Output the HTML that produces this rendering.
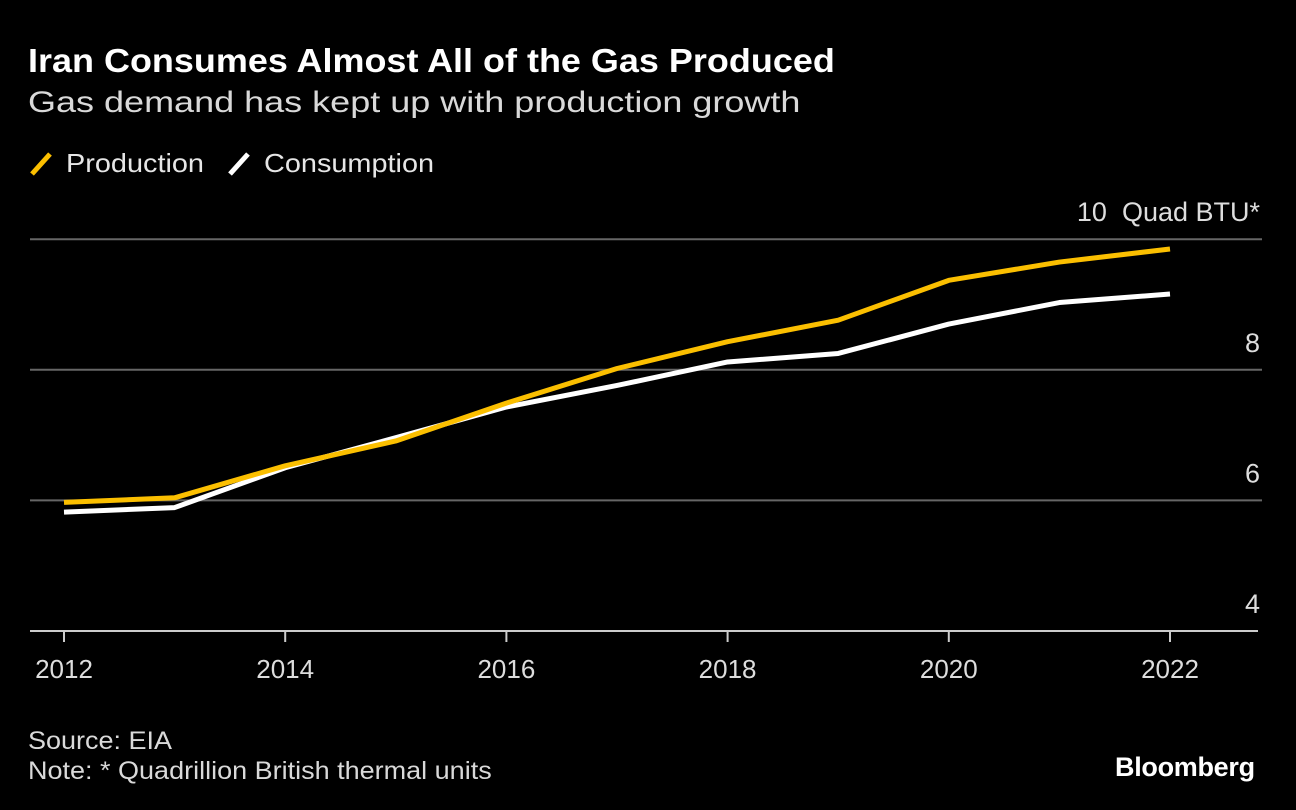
<!DOCTYPE html>
<html><head><meta charset="utf-8">
<style>
html,body{margin:0;padding:0;background:#000;}
body{width:1296px;height:810px;overflow:hidden;font-family:"Liberation Sans",Arial,sans-serif;color:#fff;position:relative;}
.t{position:absolute;white-space:nowrap;transform-origin:0 0;}
</style></head>
<body>
<div class="t" style="left:28px;top:42px;font-size:33px;font-weight:bold;transform:scaleX(1.09);">Iran Consumes Almost All of the Gas Produced</div>
<div class="t" style="left:28px;top:86px;font-size:30px;color:#d9d9d9;transform:scaleX(1.2);">Gas demand has kept up with production growth</div>
<div class="t" style="left:28px;top:148px;font-size:26px;color:#e6e6e6;"><svg width="26" height="26" style="vertical-align:-4px;margin-right:12px"><line x1="4" y1="24" x2="22" y2="4" stroke="#fbbf00" stroke-width="5"/></svg><span style="display:inline-block;transform:scaleX(1.11);transform-origin:0 0">Production</span></div>
<div class="t" style="left:226px;top:148px;font-size:26px;color:#e6e6e6;"><svg width="26" height="26" style="vertical-align:-4px;margin-right:12px"><line x1="4" y1="24" x2="22" y2="4" stroke="#fff" stroke-width="5"/></svg><span style="display:inline-block;transform:scaleX(1.11);transform-origin:0 0">Consumption</span></div>
<svg id="chart" width="1296" height="810" style="position:absolute;left:0;top:0"></svg>
<div class="t" style="left:28px;top:727px;font-size:25px;color:#d9d9d9;transform:scaleX(1.08);">Source: EIA</div>
<div class="t" style="left:28px;top:757px;font-size:25px;color:#d9d9d9;transform:scaleX(1.08);">Note: * Quadrillion British thermal units</div>
<div class="t" style="left:1115px;top:752px;font-size:27px;font-weight:bold;letter-spacing:-0.3px;">Bloomberg</div>
<script>
const years=[2012,2013,2014,2015,2016,2017,2018,2019,2020,2021,2022];
const production=[5.97,6.04,6.53,6.91,7.49,8.02,8.43,8.76,9.37,9.65,9.85];
const consumption=[5.82,5.89,6.50,6.96,7.43,7.76,8.12,8.25,8.70,9.03,9.16];
const yTicks=[4,6,8,10];
const xTicks=[2012,2014,2016,2018,2020,2022];
const NS='http://www.w3.org/2000/svg';
const svg=document.getElementById('chart');
const x=v=>64+(v-2012)*110.6;
const y=v=>631-(v-4)*65.3;
function mk(t,a){const e=document.createElementNS(NS,t);for(const k in a)e.setAttribute(k,a[k]);svg.appendChild(e);return e;}
yTicks.forEach(v=>{
  if(v>4){const g=mk('line',{x1:30,x2:1262,y1:y(v),y2:y(v),stroke:'#666','stroke-width':2});
  
  }
  const t=mk('text',{x:1260,y:y(v)-18,'text-anchor':'end',fill:'#ddd','font-size':27,'font-family':'Liberation Sans, sans-serif'});
  t.textContent=v===10?'10  Quad BTU*':String(v);
  t.style.whiteSpace='pre';
  
  
});
const ax=mk('line',{x1:30,x2:1258,y1:631,y2:631,stroke:'#ccc','stroke-width':2});


xTicks.forEach(v=>{
  const tk=mk('line',{x1:x(v),x2:x(v),y1:631,y2:642,stroke:'#ccc','stroke-width':2});
  
  
  const t=mk('text',{x:x(v),y:678,'text-anchor':'middle',fill:'#ddd','font-size':26,'font-family':'Liberation Sans, sans-serif'});
  t.textContent=v;
  
  
});
function line(data,color,name){
  const p=mk('polyline',{points:data.map((v,i)=>x(years[i])+','+y(v)).join(' '),fill:'none',stroke:color,'stroke-width':5,'stroke-linejoin':'round'});
  
  
}
line(consumption,'#ffffff','consumption-line');
line(production,'#fbbf00','production-line');
</script>
</body></html>
